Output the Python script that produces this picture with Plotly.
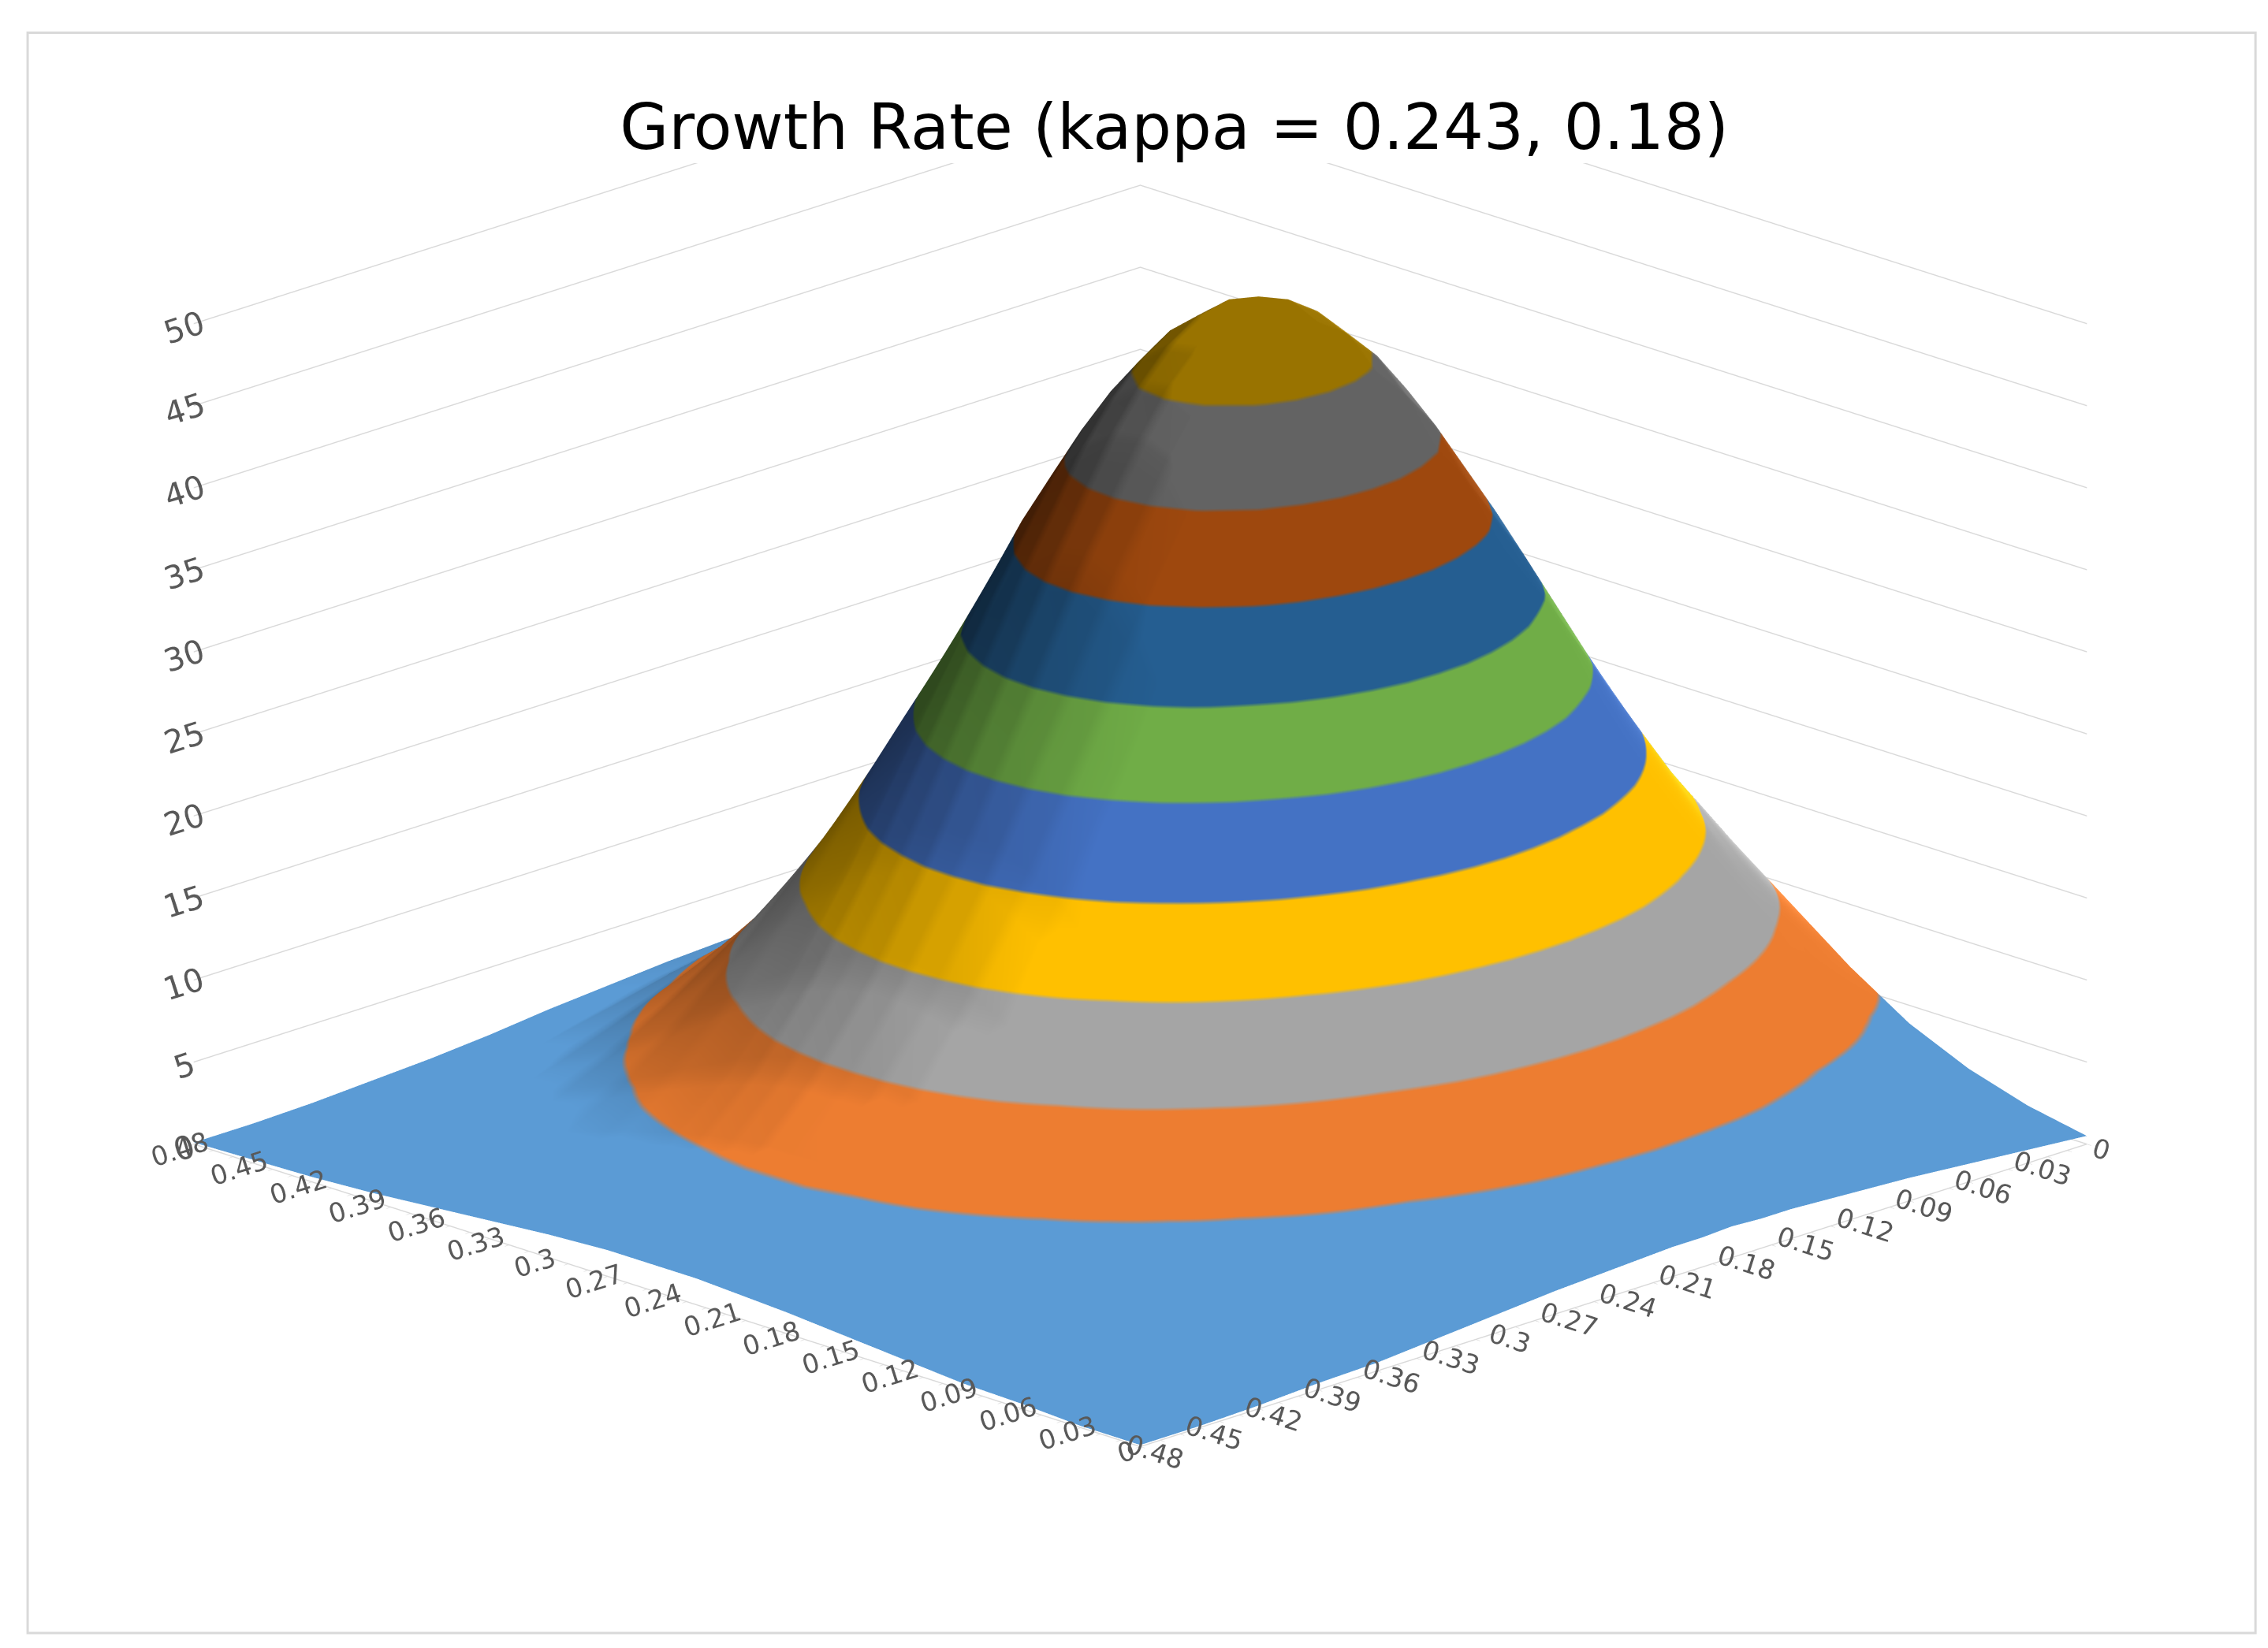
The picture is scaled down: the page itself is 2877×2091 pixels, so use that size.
import numpy as np
import plotly.graph_objects as go

# kappa values along the two floor axes (front-left axis and front-right axis)
kappa_a = [0, 0.03, 0.06, 0.09, 0.12, 0.15, 0.18, 0.195, 0.21, 0.225, 0.24,
           0.255, 0.27, 0.285, 0.3, 0.33, 0.36, 0.39, 0.42, 0.45, 0.48]
kappa_b = [0, 0.03, 0.06, 0.09, 0.12, 0.135, 0.15, 0.165, 0.18, 0.195, 0.21,
           0.225, 0.24, 0.27, 0.3, 0.33, 0.36, 0.39, 0.42, 0.45, 0.48]

# growth rate: one row per kappa_b, one column per kappa_a
growth = [
    [0.5, 1.2, 2.3, 3.9, 6.2, 8.9, 11.6, 12.7, 13.6, 14.1, 14.4, 14.3, 13.8, 13.1, 12.0, 9.5, 6.7, 4.3, 2.5, 1.3, 0.6],
    [0.8, 1.7, 3.3, 5.7, 9.1, 13.0, 16.8, 18.4, 19.7, 20.6, 20.9, 20.8, 20.1, 19.0, 17.5, 13.8, 9.8, 6.3, 3.7, 1.9, 0.9],
    [1.1, 2.3, 4.4, 7.8, 12.3, 17.6, 22.8, 25.0, 26.8, 27.9, 28.4, 28.2, 27.3, 25.8, 23.7, 18.7, 13.3, 8.6, 5.0, 2.6, 1.3],
    [1.4, 2.9, 5.6, 9.9, 15.6, 22.3, 29.0, 31.8, 34.0, 35.4, 36.1, 35.8, 34.6, 32.7, 30.1, 23.7, 16.9, 10.9, 6.4, 3.4, 1.6],
    [1.6, 3.5, 6.7, 11.7, 18.5, 26.5, 34.3, 37.6, 40.3, 42.0, 42.7, 42.4, 41.1, 38.8, 35.7, 28.1, 20.0, 12.9, 7.5, 4.0, 1.9],
    [1.7, 3.7, 7.1, 12.4, 19.6, 28.1, 36.4, 40.0, 42.7, 44.6, 45.4, 45.0, 43.6, 41.2, 37.9, 29.8, 21.3, 13.7, 8.0, 4.2, 2.0],
    [1.8, 3.8, 7.4, 12.9, 20.5, 29.3, 38.0, 41.7, 44.6, 46.5, 47.3, 47.0, 45.5, 43.0, 39.6, 31.1, 22.2, 14.3, 8.4, 4.4, 2.1],
    [1.8, 3.9, 7.6, 13.3, 21.0, 30.1, 39.0, 42.8, 45.7, 47.7, 48.6, 48.2, 46.7, 44.1, 40.6, 31.9, 22.8, 14.7, 8.6, 4.5, 2.2],
    [1.9, 4.0, 7.7, 13.4, 21.2, 30.3, 39.3, 43.1, 46.1, 48.1, 49.0, 48.6, 47.1, 44.4, 40.9, 32.2, 23.0, 14.8, 8.6, 4.6, 2.2],
    [1.8, 3.9, 7.6, 13.3, 21.0, 30.1, 39.0, 42.8, 45.7, 47.7, 48.6, 48.2, 46.7, 44.1, 40.6, 31.9, 22.8, 14.7, 8.6, 4.5, 2.2],
    [1.8, 3.8, 7.4, 12.9, 20.5, 29.3, 38.0, 41.7, 44.6, 46.5, 47.3, 47.0, 45.5, 43.0, 39.6, 31.1, 22.2, 14.3, 8.4, 4.4, 2.1],
    [1.7, 3.7, 7.1, 12.4, 19.6, 28.1, 36.4, 40.0, 42.7, 44.6, 45.4, 45.0, 43.6, 41.2, 37.9, 29.8, 21.3, 13.7, 8.0, 4.2, 2.0],
    [1.6, 3.5, 6.7, 11.7, 18.5, 26.5, 34.3, 37.6, 40.3, 42.0, 42.7, 42.4, 41.1, 38.8, 35.7, 28.1, 20.0, 12.9, 7.5, 4.0, 1.9],
    [1.4, 2.9, 5.6, 9.9, 15.6, 22.3, 29.0, 31.8, 34.0, 35.4, 36.1, 35.8, 34.6, 32.7, 30.1, 23.7, 16.9, 10.9, 6.4, 3.4, 1.6],
    [1.1, 2.3, 4.4, 7.8, 12.3, 17.6, 22.8, 25.0, 26.8, 27.9, 28.4, 28.2, 27.3, 25.8, 23.7, 18.7, 13.3, 8.6, 5.0, 2.6, 1.3],
    [0.8, 1.7, 3.3, 5.7, 9.1, 13.0, 16.8, 18.4, 19.7, 20.6, 20.9, 20.8, 20.1, 19.0, 17.5, 13.8, 9.8, 6.3, 3.7, 1.9, 0.9],
    [0.5, 1.2, 2.3, 3.9, 6.2, 8.9, 11.6, 12.7, 13.6, 14.1, 14.4, 14.3, 13.8, 13.1, 12.0, 9.5, 6.7, 4.3, 2.5, 1.3, 0.6],
    [0.4, 0.7, 1.4, 2.5, 4.0, 5.7, 7.4, 8.1, 8.7, 9.1, 9.2, 9.2, 8.9, 8.4, 7.7, 6.1, 4.3, 2.8, 1.6, 0.9, 0.4],
    [0.2, 0.4, 0.9, 1.5, 2.4, 3.4, 4.5, 4.9, 5.2, 5.5, 5.5, 5.5, 5.3, 5.0, 4.6, 3.7, 2.6, 1.7, 1.0, 0.5, 0.2],
    [0.1, 0.3, 0.5, 0.9, 1.3, 1.9, 2.5, 2.7, 2.9, 3.1, 3.1, 3.1, 3.0, 2.8, 2.6, 2.0, 1.5, 0.9, 0.5, 0.3, 0.1],
    [0.1, 0.1, 0.3, 0.4, 0.7, 1.0, 1.3, 1.4, 1.5, 1.6, 1.6, 1.6, 1.6, 1.5, 1.4, 1.1, 0.8, 0.5, 0.3, 0.2, 0.1],
]

# z axis labels and one colour per 5-unit band (0-5, 5-10, ... 45-50)
z_ticks = [0, 5, 10, 15, 20, 25, 30, 35, 40, 45, 50]
band_colors = ["#5B9BD5", "#ED7D31", "#A5A5A5", "#FFC000", "#4472C4",
               "#70AD47", "#255E91", "#9E480E", "#636363", "#997300"]

# stepped colour scale so each band gets one flat colour
n = len(band_colors)
colorscale = []
for i, c in enumerate(band_colors):
    colorscale.append([i / n, c])
    colorscale.append([(i + 1) / n, c])

# small ticks every 0.01 with a label every 0.03, like the category axis
minor = np.round(np.arange(0, 0.4801, 0.01), 2)
tick_text = [(f"{v:g}" if round(v * 100) % 3 == 0 else "") for v in minor]

fig = go.Figure()
fig.add_trace(go.Surface(
    x=kappa_a, y=kappa_b, z=growth,
    colorscale=colorscale, cmin=0, cmax=50,
    showscale=False,
    lighting=dict(ambient=0.42, diffuse=1.0, specular=0.7, roughness=0.4, fresnel=0.0),
    lightposition=dict(x=4000, y=5000, z=-12),
    hoverinfo="skip",
))

font = "DejaVu Sans"
cat_axis = dict(
    title=dict(text=""),
    range=[0, 0.48],
    tickvals=minor, ticktext=tick_text,
    ticks="outside", ticklen=8, tickcolor="#D9D9D9", tickwidth=2,
    tickfont=dict(family=font, size=20, color="#595959"),
    showgrid=False, zeroline=False,
    showline=True, linecolor="#D9D9D9", linewidth=3,
    showbackground=False, showspikes=False,
)

# orthographic view: the box size is set through aspectratio
box = 1.795
fig.update_layout(
    width=2877, height=2091,
    paper_bgcolor="white",
    margin=dict(l=0, r=0, t=0, b=0),
    title=dict(text="Growth Rate (kappa = 0.243, 0.18)",
               font=dict(family=font, size=80, color="black"),
               x=0.515, xanchor="center", y=0.927, yanchor="middle"),
    scene=dict(
        domain=dict(x=[0, 1], y=[0, 0.905]),
        xaxis=cat_axis,
        yaxis=cat_axis,
        zaxis=dict(
            title=dict(text=""),
            range=[0, 50], tickvals=z_ticks,
            tickfont=dict(family=font, size=22, color="#595959"),
            showgrid=True, gridcolor="#D9D9D9", gridwidth=3,
            zeroline=False, showline=False, ticks="",
            showbackground=False, showspikes=False,
        ),
        aspectmode="manual",
        aspectratio=dict(x=box, y=box, z=0.647 * box),
        camera=dict(eye=dict(x=-1.072, y=1.072, z=0.264),
                    center=dict(x=0, y=0, z=-0.2475),
                    up=dict(x=0, y=0, z=1),
                    projection=dict(type="orthographic")),
    ),
    shapes=[dict(type="rect", xref="paper", yref="paper",
                 x0=0.0094, x1=0.9917, y0=0.0129, y1=0.984,
                 line=dict(color="#D9D9D9", width=3))],
)

fig.write_html("out.html")
